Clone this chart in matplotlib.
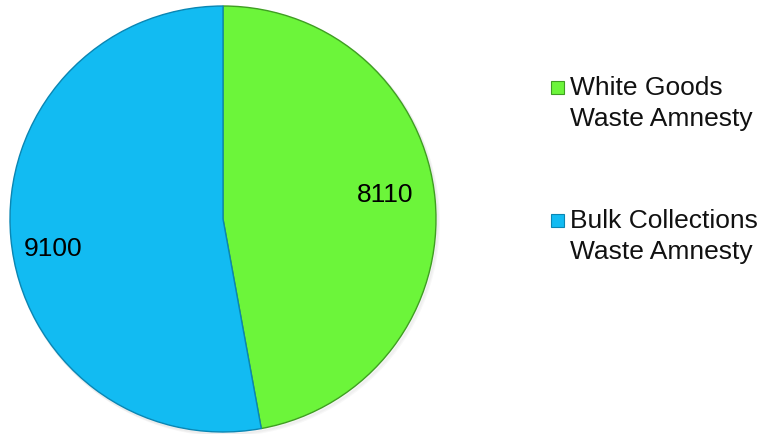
import matplotlib
matplotlib.use("Agg")
import matplotlib.pyplot as plt
from matplotlib.patches import Rectangle, Circle

plt.rcParams['font.family'] = ['Liberation Sans', 'DejaVu Sans']

categories = ["White Goods\nWaste Amnesty", "Bulk Collections\nWaste Amnesty"]
values = [8110, 9100]
colors = ["#6cf53a", "#12bbf2"]
edge_colors = ["#3f9e22", "#0a86b3"]

W, H = 761, 435
fig = plt.figure(figsize=(W / 100, H / 100), dpi=100)

# pie centre and radius in pixels
cx, cy, r = 223, 220, 213
ax = fig.add_axes([(cx - r) / W, (H - cy - r) / H, 2 * r / W, 2 * r / H])
ax.set_aspect("equal")
ax.set_xlim(-1.0, 1.0)
ax.set_ylim(-1.0, 1.0)
ax.axis("off")

# soft drop shadow under the pie
for k, a in enumerate([0.05, 0.05, 0.06]):
    ax.add_patch(Circle((0.004 + 0.004 * k, -0.006 - 0.004 * k), 1.0,
                        facecolor="none", edgecolor="#888888", lw=2.0, alpha=a,
                        zorder=0, clip_on=False))

wedges, texts, autotexts = ax.pie(
    values, colors=colors, startangle=90, counterclock=False,
    autopct=lambda p: f"{p * sum(values) / 100:.0f}", pctdistance=0.78,
    wedgeprops=dict(linewidth=1.0),
    textprops=dict(fontsize=19, color="black"),
)
ax.set_xlim(-1.0, 1.0)
ax.set_ylim(-1.0, 1.0)
for w, ec in zip(wedges, edge_colors):
    w.set_edgecolor(ec)

# nudge value labels to where they sit in the chart
label_pos = [(0.76, 0.117), (-0.80, -0.136)]
for t, (x, y) in zip(autotexts, label_pos):
    t.set_position((x, y))
    t.set_va("center")

# legend drawn by hand: small square marker + two-line label
baselines = [95, 228]
for lab, col, ec, by in zip(categories, colors, edge_colors, baselines):
    fig.patches.append(Rectangle((551 / W, (H - 95 + (95 - by)) / H + 0 / H), 13 / W, 13 / H,
                                 transform=fig.transFigure, facecolor=col,
                                 edgecolor=ec, linewidth=0.8))
    first, second = lab.split("\n")
    fig.text(570 / W, (H - by) / H, first, fontsize=19, va="baseline", ha="left",
             color="#111111")
    fig.text(570 / W, (H - by - 31) / H, second, fontsize=19, va="baseline", ha="left",
             color="#111111")

fig.savefig("out.png", dpi=100)
